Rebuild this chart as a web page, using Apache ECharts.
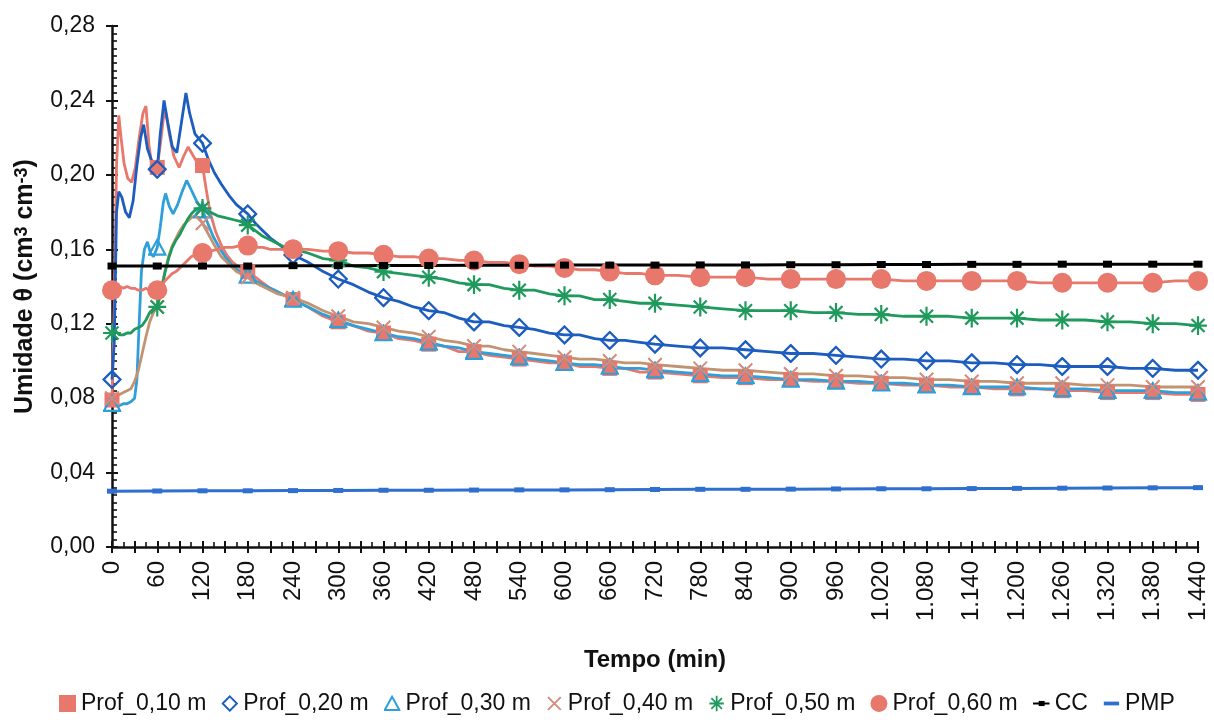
<!DOCTYPE html>
<html>
<head>
<meta charset="utf-8">
<script src="https://cdn.jsdelivr.net/npm/echarts/dist/echarts.min.js"></script>
<style>
  html, body { margin: 0; padding: 0; background: #fff; }
  #chart { width: 1214px; height: 720px; }
</style>
</head>
<body>
<div id="chart"></div>
<script>
// Soil water content (θ, cm³ cm⁻³) over time (min) at six depths,
// with field capacity (CC) and permanent wilting point (PMP) references.

const seriesNames = ['Prof_0,10 m', 'Prof_0,20 m', 'Prof_0,30 m', 'Prof_0,40 m', 'Prof_0,50 m', 'Prof_0,60 m', 'CC', 'PMP'];
const yTicks = [0, 0.04, 0.08, 0.12, 0.16, 0.20, 0.24, 0.28];

// [minute, θ]
const prof10 = [
  [0,0.079],[3,0.130],[6,0.205],[9,0.232],[12,0.220],[16,0.206],[21,0.198],[26,0.196],[31,0.204],[36,0.220],
  [41,0.233],[45,0.237],[49,0.216],[54,0.202],[60,0.204],[64,0.216],[68,0.230],[71,0.234],[76,0.222],[82,0.210],
  [89,0.204],[95,0.210],[101,0.215],[108,0.210],[114,0.206],[120,0.205],[125,0.192],[130,0.180],[137,0.170],[145,0.162],
  [152,0.157],[160,0.153],[170,0.150],[180,0.148],[190,0.145],[200,0.142],[210,0.139],[220,0.137],[230,0.135],[240,0.133],
  [260,0.129],[280,0.124],[300,0.121],[320,0.119],[340,0.116],[360,0.115],[380,0.112],[400,0.111],[420,0.109],[440,0.108],
  [460,0.105],[480,0.105],[500,0.103],[520,0.102],[540,0.101],[560,0.100],[580,0.099],[600,0.099],[620,0.097],[640,0.097],
  [660,0.096],[680,0.096],[700,0.094],[720,0.094],[750,0.093],[780,0.092],[810,0.091],[840,0.091],[870,0.090],[900,0.090],
  [930,0.089],[960,0.089],[990,0.088],[1020,0.088],[1050,0.087],[1080,0.087],[1110,0.086],[1140,0.086],[1170,0.085],[1200,0.085],
  [1230,0.085],[1260,0.084],[1290,0.084],[1320,0.083],[1350,0.083],[1380,0.083],[1410,0.082],[1440,0.082]
];
const prof20 = [
  [0,0.090],[3,0.110],[6,0.180],[9,0.191],[13,0.188],[18,0.180],[23,0.177],[28,0.186],[33,0.205],[38,0.220],
  [42,0.227],[47,0.214],[53,0.207],[60,0.203],[64,0.222],[69,0.240],[74,0.228],[80,0.215],[86,0.212],[92,0.228],
  [98,0.244],[103,0.233],[110,0.222],[120,0.217],[128,0.208],[136,0.201],[145,0.195],[155,0.189],[165,0.184],[180,0.179],
  [190,0.174],[200,0.170],[210,0.166],[220,0.163],[230,0.160],[240,0.157],
  [260,0.153],[280,0.148],[300,0.144],[320,0.141],[340,0.137],[360,0.134],[380,0.132],[400,0.129],[420,0.127],[440,0.126],
  [460,0.123],[480,0.121],[500,0.121],[520,0.119],[540,0.118],[560,0.117],[580,0.115],[600,0.114],[620,0.114],[640,0.112],
  [660,0.111],[680,0.111],[700,0.110],[720,0.109],[750,0.108],[780,0.107],[810,0.107],[840,0.106],[870,0.105],[900,0.104],
  [930,0.104],[960,0.103],[990,0.102],[1020,0.101],[1050,0.101],[1080,0.100],[1110,0.100],[1140,0.099],[1170,0.099],[1200,0.098],
  [1230,0.098],[1260,0.097],[1290,0.097],[1320,0.097],[1350,0.096],[1380,0.096],[1410,0.095],[1440,0.095]
];
const prof30 = [
  [0,0.077],[5,0.076],[10,0.076],[15,0.077],[20,0.077],[25,0.078],[30,0.080],[33,0.090],[36,0.120],[39,0.148],
  [43,0.160],[47,0.164],[51,0.158],[55,0.156],[60,0.161],[64,0.172],[68,0.185],[71,0.190],[76,0.183],[81,0.179],
  [87,0.184],[93,0.191],[99,0.197],[105,0.192],[112,0.186],[120,0.181],[127,0.174],[134,0.167],[142,0.161],[150,0.156],
  [160,0.151],[170,0.148],[180,0.146],[190,0.143],[200,0.141],[210,0.139],[220,0.137],[230,0.135],[240,0.133],
  [260,0.129],[280,0.125],[300,0.122],[320,0.119],[340,0.117],[360,0.115],[380,0.113],[400,0.112],[420,0.110],[440,0.108],
  [460,0.107],[480,0.105],[500,0.104],[520,0.103],[540,0.102],[560,0.101],[580,0.100],[600,0.099],[620,0.098],[640,0.098],
  [660,0.097],[680,0.096],[700,0.096],[720,0.095],[750,0.094],[780,0.093],[810,0.092],[840,0.092],[870,0.091],[900,0.090],
  [930,0.090],[960,0.089],[990,0.089],[1020,0.088],[1050,0.088],[1080,0.087],[1110,0.087],[1140,0.086],[1170,0.086],[1200,0.086],
  [1230,0.085],[1260,0.085],[1290,0.085],[1320,0.084],[1350,0.084],[1380,0.084],[1410,0.083],[1440,0.083]
];
const prof40 = [
  [0,0.080],[5,0.081],[10,0.082],[15,0.083],[20,0.084],[25,0.085],[30,0.089],[35,0.095],[40,0.104],[45,0.113],
  [50,0.121],[55,0.126],[60,0.129],[65,0.138],[70,0.148],[75,0.156],[80,0.162],[85,0.166],[90,0.170],[95,0.173],
  [100,0.175],[105,0.177],[110,0.178],[115,0.177],[120,0.174],[128,0.168],[136,0.162],[145,0.156],[155,0.152],[165,0.148],
  [180,0.145],[190,0.142],[200,0.140],[210,0.138],[220,0.136],[230,0.135],[240,0.134],
  [260,0.131],[280,0.127],[300,0.124],[320,0.121],[340,0.120],[360,0.118],[380,0.116],[400,0.115],[420,0.113],[440,0.111],
  [460,0.110],[480,0.108],[500,0.108],[520,0.106],[540,0.105],[560,0.104],[580,0.103],[600,0.102],[620,0.101],[640,0.101],
  [660,0.100],[680,0.099],[700,0.099],[720,0.098],[750,0.097],[780,0.096],[810,0.095],[840,0.095],[870,0.094],[900,0.093],
  [930,0.093],[960,0.092],[990,0.092],[1020,0.091],[1050,0.091],[1080,0.090],[1110,0.090],[1140,0.089],[1170,0.089],[1200,0.088],
  [1230,0.088],[1260,0.088],[1290,0.087],[1320,0.087],[1350,0.087],[1380,0.086],[1410,0.086],[1440,0.086]
];
const prof50 = [
  [0,0.115],[5,0.116],[10,0.114],[15,0.114],[20,0.115],[25,0.115],[30,0.117],[35,0.118],[40,0.119],[45,0.122],
  [50,0.126],[55,0.128],[60,0.129],[65,0.137],[70,0.147],[75,0.155],[80,0.161],[85,0.165],[90,0.168],[95,0.172],
  [100,0.176],[105,0.179],[110,0.181],[115,0.182],[120,0.182],[130,0.180],[140,0.178],[150,0.177],[160,0.176],[170,0.175],
  [180,0.173],[190,0.170],[200,0.167],[210,0.165],[220,0.163],[230,0.161],[240,0.160],
  [260,0.158],[280,0.155],[300,0.154],[320,0.151],[340,0.150],[360,0.148],[380,0.147],[400,0.146],[420,0.145],[440,0.144],
  [460,0.142],[480,0.141],[500,0.141],[520,0.139],[540,0.138],[560,0.138],[580,0.136],[600,0.135],[620,0.135],[640,0.133],
  [660,0.133],[680,0.132],[700,0.131],[720,0.131],[750,0.130],[780,0.129],[810,0.128],[840,0.127],[870,0.127],[900,0.127],
  [930,0.126],[960,0.126],[990,0.125],[1020,0.125],[1050,0.124],[1080,0.124],[1110,0.124],[1140,0.123],[1170,0.123],[1200,0.123],
  [1230,0.122],[1260,0.122],[1290,0.122],[1320,0.121],[1350,0.121],[1380,0.120],[1410,0.120],[1440,0.119]
];
const prof60 = [
  [0,0.138],[5,0.139],[10,0.140],[15,0.139],[20,0.140],[25,0.139],[30,0.139],[35,0.138],[40,0.138],[45,0.139],
  [50,0.138],[55,0.138],[60,0.138],[65,0.140],[70,0.143],[75,0.145],[80,0.147],[85,0.148],[90,0.150],[95,0.152],
  [100,0.154],[105,0.156],[110,0.157],[115,0.158],[120,0.158],[130,0.159],[140,0.160],[150,0.161],[160,0.161],[170,0.162],
  [180,0.162],[190,0.161],[200,0.161],[210,0.160],[220,0.160],[230,0.160],[240,0.160],
  [260,0.160],[280,0.159],[300,0.159],[320,0.158],[340,0.158],[360,0.157],[380,0.156],[400,0.156],[420,0.155],[440,0.155],
  [460,0.154],[480,0.154],[500,0.153],[520,0.153],[540,0.152],[560,0.151],[580,0.151],[600,0.150],[620,0.149],[640,0.149],
  [660,0.148],[680,0.147],[700,0.147],[720,0.146],[750,0.146],[780,0.145],[810,0.145],[840,0.145],[870,0.144],[900,0.144],
  [930,0.144],[960,0.144],[990,0.144],[1020,0.144],[1050,0.143],[1080,0.143],[1110,0.143],[1140,0.143],[1170,0.143],[1200,0.143],
  [1230,0.142],[1260,0.142],[1290,0.142],[1320,0.142],[1350,0.142],[1380,0.142],[1410,0.143],[1440,0.143]
];
const cc = [
  [0,0.1510],[60,0.1510],[120,0.1510],[180,0.1510],[240,0.1512],[300,0.1512],[360,0.1513],[420,0.1513],[480,0.1514],
  [540,0.1514],[600,0.1515],[660,0.1515],[720,0.1515],[780,0.1516],[840,0.1516],[900,0.1517],[960,0.1517],[1020,0.1518],
  [1080,0.1518],[1140,0.1519],[1200,0.1519],[1260,0.1520],[1320,0.1520],[1380,0.1520],[1440,0.1520]
];
const pmp = [
  [0,0.0300],[60,0.0301],[120,0.0302],[180,0.0302],[240,0.0303],[300,0.0304],[360,0.0305],[420,0.0305],[480,0.0306],
  [540,0.0307],[600,0.0307],[660,0.0308],[720,0.0309],[780,0.0310],[840,0.0310],[900,0.0311],[960,0.0312],[1020,0.0313],
  [1080,0.0313],[1140,0.0314],[1200,0.0315],[1260,0.0316],[1320,0.0317],[1380,0.0318],[1440,0.0319]
];

const FONT = '"Liberation Sans", Arial, sans-serif';
const C10 = '#E8776C', C20 = '#1C5DBF', C30 = '#2E9FD9', C40 = '#C29370', C40M = '#D48C7E',
      C50 = '#1F9A5C', C60 = '#E8776C', CCC = '#000000', CPMP = '#2F6FD0';

function svgSymbol(body) {
  const svg = '<svg xmlns="http://www.w3.org/2000/svg" width="40" height="40" viewBox="0 0 20 20">' + body + '</svg>';
  return 'image://data:image/svg+xml;charset=utf-8,' + encodeURIComponent(svg);
}
const diamondSym = svgSymbol('<path d="M10 1.6 L18.4 10 L10 18.4 L1.6 10 Z" fill="none" stroke="' + C20 + '" stroke-width="2.3"/>');
const triangleSym = svgSymbol('<path d="M10 2 L18.6 17.6 L1.4 17.6 Z" fill="none" stroke="' + C30 + '" stroke-width="2.3"/>');
const crossSym = svgSymbol('<path d="M2.5 2.5 L17.5 17.5 M17.5 2.5 L2.5 17.5" stroke="' + C40M + '" stroke-width="2.3" fill="none"/>');
const starSym = svgSymbol('<path d="M10 1 V19 M1.5 10 H18.5 M3.8 3.8 L16.2 16.2 M16.2 3.8 L3.8 16.2" stroke="' + C50 + '" stroke-width="2.1" fill="none"/>');
const ccIcon = svgSymbol('<path d="M0 10 H20" stroke="#000" stroke-width="2.4"/><rect x="7" y="7" width="7" height="6" fill="#000"/>');
const pmpIcon = svgSymbol('<rect x="1" y="7.8" width="18" height="4.4" fill="' + CPMP + '"/>');

// markers are drawn at every 60 minutes only
function everyHour(size) {
  return function (val) { return val[0] % 60 === 0 ? size : 0; };
}

function lineSeries(name, data, color, symbol, size, extra) {
  return Object.assign({
    name: name,
    type: 'line',
    data: data,
    symbol: symbol,
    symbolSize: everyHour(size),
    showSymbol: true,
    showAllSymbol: true,
    symbolKeepAspect: true,
    lineStyle: { color: color, width: 2.8 },
    itemStyle: { color: color },
    emphasis: { disabled: true },
    animation: false,
    z: 2
  }, extra || {});
}

function fmtMinute(v) {
  if (v % 60 !== 0) return '';
  if (v >= 1000) {
    const r = String(v - 1000);
    return '1.' + ('000' + r).slice(-3);
  }
  return String(v);
}

const chart = echarts.init(document.getElementById('chart'), null, { renderer: 'canvas' });

const gridBox = { left: 112, right: 16, top: 26, bottom: 173 };

chart.setOption({
  animation: false,
  backgroundColor: '#ffffff',
  textStyle: { fontFamily: FONT },
  grid: [
    Object.assign({ containLabel: false }, gridBox),
    Object.assign({ containLabel: false }, gridBox)
  ],
  legend: {
    left: 54,
    top: 687,
    itemWidth: 17,
    itemHeight: 17,
    itemGap: 15,
    textStyle: { fontFamily: FONT, fontSize: 23, color: '#111' },
    data: [
      { name: seriesNames[0], icon: 'rect' },
      { name: seriesNames[1], icon: diamondSym },
      { name: seriesNames[2], icon: triangleSym },
      { name: seriesNames[3], icon: crossSym },
      { name: seriesNames[4], icon: starSym },
      { name: seriesNames[5], icon: 'circle' },
      { name: seriesNames[6], icon: ccIcon },
      { name: seriesNames[7], icon: pmpIcon }
    ]
  },
  xAxis: [
    {
      type: 'value', gridIndex: 0, min: 0, max: 1440, interval: 30,
      name: 'Tempo (min)', nameLocation: 'middle', nameGap: 101,
      nameTextStyle: { fontFamily: FONT, fontSize: 24, fontWeight: 'bold', color: '#111' },
      axisLine: { show: true, onZero: false, lineStyle: { color: '#111', width: 2.5 } },
      axisTick: { show: true, inside: true, length: 6, lineStyle: { color: '#111', width: 2 } },
      minorTick: { show: true, splitNumber: 2, length: 5, lineStyle: { color: '#111', width: 1.6 } },
      splitLine: { show: false },
      axisLabel: { rotate: 90, margin: 14, fontSize: 24, color: '#111', fontFamily: FONT, formatter: fmtMinute, showMinLabel: true, showMaxLabel: true }
    },
    {
      type: 'value', gridIndex: 1, min: 0, max: 1440, interval: 30,
      axisLine: { show: false },
      axisTick: { show: true, inside: false, length: 6, lineStyle: { color: '#111', width: 2 } },
      splitLine: { show: false },
      axisLabel: { show: false }
    }
  ],
  yAxis: [
    {
      type: 'value', gridIndex: 0, min: yTicks[0], max: yTicks[yTicks.length - 1], interval: 0.04,
      name: 'Umidade θ (cm{s|3} cm{s|-3})', nameLocation: 'middle', nameRotate: 90, nameGap: 74,
      nameTextStyle: {
        fontFamily: FONT, fontSize: 25, fontWeight: 'bold', color: '#111',
        rich: { s: { fontFamily: FONT, fontSize: 18, fontWeight: 'bold', color: '#111', verticalAlign: 'top' } }
      },
      axisLine: { show: true, onZero: false, lineStyle: { color: '#111', width: 2.5 } },
      axisTick: { show: true, inside: true, length: 6, lineStyle: { color: '#111', width: 2 } },
      minorTick: { show: true, splitNumber: 10, length: 5, lineStyle: { color: '#111', width: 1.6 } },
      splitLine: { show: false },
      axisLabel: { margin: 17, fontSize: 23, color: '#111', fontFamily: FONT, formatter: function (v) { return v.toFixed(2).replace('.', ','); } }
    },
    {
      type: 'value', gridIndex: 1, min: yTicks[0], max: yTicks[yTicks.length - 1], interval: 0.04,
      axisLine: { show: false },
      axisTick: { show: true, inside: false, length: 6, lineStyle: { color: '#111', width: 2 } },
      splitLine: { show: false },
      axisLabel: { show: false }
    }
  ],
  series: [
    lineSeries(seriesNames[0], prof10, C10, 'rect', 15),
    lineSeries(seriesNames[1], prof20, C20, diamondSym, 20),
    lineSeries(seriesNames[2], prof30, C30, triangleSym, 19),
    lineSeries(seriesNames[3], prof40, C40, crossSym, 18, { itemStyle: { color: C40M } }),
    lineSeries(seriesNames[4], prof50, C50, starSym, 21),
    lineSeries(seriesNames[5], prof60, C60, 'circle', 20),
    lineSeries(seriesNames[6], cc, CCC, 'rect', [9, 7], { lineStyle: { color: CCC, width: 3 } }),
    lineSeries(seriesNames[7], pmp, CPMP, 'rect', [10, 5], { lineStyle: { color: CPMP, width: 3 } })
  ]
});
</script>
</body>
</html>
